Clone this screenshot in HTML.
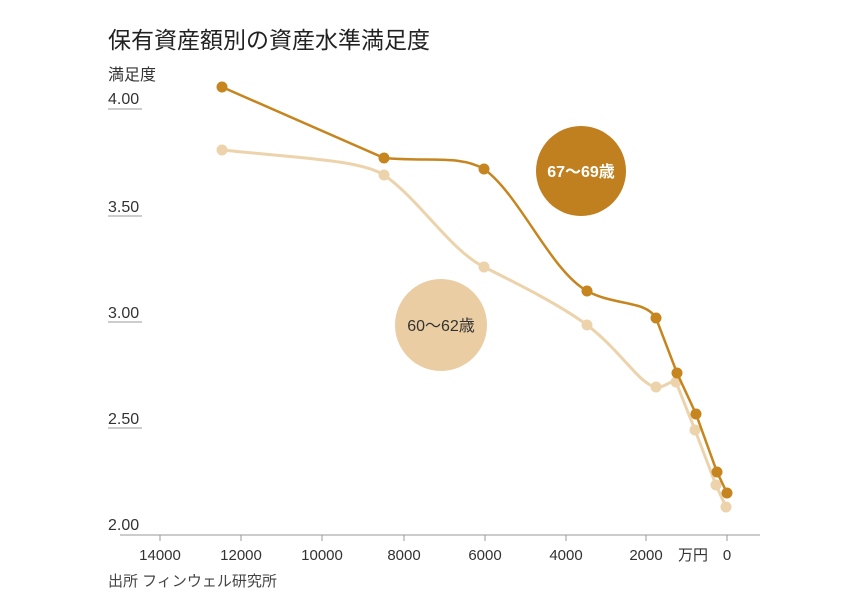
<!DOCTYPE html>
<html><head><meta charset="utf-8"><style>
body{margin:0;background:#fff;}
svg text{font-family:"Liberation Sans","Noto Sans CJK JP",sans-serif;}
</style></head><body>
<svg width="860" height="599" viewBox="0 0 860 599" xmlns="http://www.w3.org/2000/svg">
<rect width="860" height="599" fill="#fff"/>
<text x="108" y="48" font-size="23" fill="#222">保有資産額別の資産水準満足度</text>
<text x="108" y="80" font-size="16" fill="#333">満足度</text>
<g font-size="16" fill="#333">
<text x="108" y="104">4.00</text>
<text x="108" y="212">3.50</text>
<text x="108" y="318">3.00</text>
<text x="108" y="424">2.50</text>
<text x="108" y="530">2.00</text>
</g>
<g stroke="#999" stroke-width="1">
<line x1="108" y1="109" x2="142" y2="109"/>
<line x1="108" y1="216" x2="142" y2="216"/>
<line x1="108" y1="322" x2="142" y2="322"/>
<line x1="108" y1="428" x2="142" y2="428"/>
<line x1="120" y1="535" x2="760" y2="535"/>
<line x1="160" y1="535" x2="160" y2="541"/>
<line x1="241" y1="535" x2="241" y2="541"/>
<line x1="322" y1="535" x2="322" y2="541"/>
<line x1="404" y1="535" x2="404" y2="541"/>
<line x1="485" y1="535" x2="485" y2="541"/>
<line x1="566" y1="535" x2="566" y2="541"/>
<line x1="646" y1="535" x2="646" y2="541"/>
<line x1="727" y1="535" x2="727" y2="541"/>
</g>
<g font-size="15" fill="#333" text-anchor="middle">
<text x="160" y="560">14000</text>
<text x="241" y="560">12000</text>
<text x="322" y="560">10000</text>
<text x="404" y="560">8000</text>
<text x="485" y="560">6000</text>
<text x="566" y="560">4000</text>
<text x="646" y="560">2000</text>
<text x="693" y="560">万円</text>
<text x="727" y="560">0</text>
</g>
<text x="108" y="586" font-size="15" fill="#444">出所 フィンウェル研究所</text>
<path d="M222,150 C300,158 360,160 384,175 C420,200 450,250 484,267 C520,285 560,305 587,325 C620,350 640,385 656,387 C665,388 670,380 676,382 L695,430 L716,485 L726,507" fill="none" stroke="#ecd3ac" stroke-width="3"/>
<g fill="#ecd3ac">
<circle cx="222" cy="150" r="5.5"/><circle cx="384" cy="175" r="5.5"/><circle cx="484" cy="267" r="5.5"/><circle cx="587" cy="325" r="5.5"/><circle cx="656" cy="387" r="5.5"/><circle cx="676" cy="382" r="5.5"/><circle cx="695" cy="430" r="5.5"/><circle cx="716" cy="485" r="5.5"/><circle cx="726" cy="507" r="5.5"/>
</g>
<path d="M222,87 L384,158 C430,162 460,155 484,169 C520,195 550,270 587,291 C615,306 645,300 656,318 L677,373 L696,414 L717,472 L727,493" fill="none" stroke="#c6851f" stroke-width="2.5"/>
<g fill="#c6851f">
<circle cx="222" cy="87" r="5.5"/><circle cx="384" cy="158" r="5.5"/><circle cx="484" cy="169" r="5.5"/><circle cx="587" cy="291" r="5.5"/><circle cx="656" cy="318" r="5.5"/><circle cx="677" cy="373" r="5.5"/><circle cx="696" cy="414" r="5.5"/><circle cx="717" cy="472" r="5.5"/><circle cx="727" cy="493" r="5.5"/>
</g>
<circle cx="581" cy="171" r="45" fill="#c0801f"/>
<text x="581" y="177" font-size="16" font-weight="bold" fill="#fff" text-anchor="middle">67〜69歳</text>
<circle cx="441" cy="325" r="46" fill="#ebcda3"/>
<text x="441" y="331" font-size="16" fill="#333" text-anchor="middle">60〜62歳</text>
</svg>
</body></html>
